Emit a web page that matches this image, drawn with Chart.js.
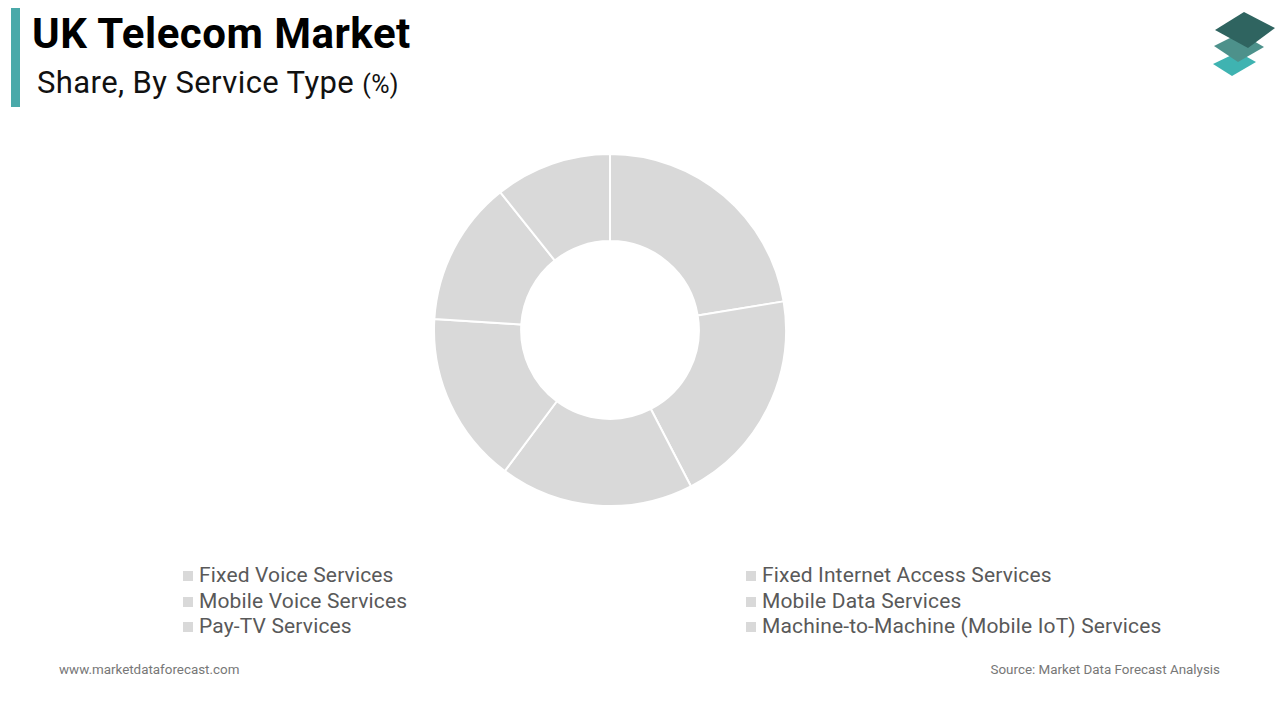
<!DOCTYPE html>
<html>
<head>
<meta charset="utf-8">
<script src="https://cdn.jsdelivr.net/npm/chart.js@4.4.1/dist/chart.umd.min.js"></script>
<style>
    body { margin: 0; width: 1280px; height: 720px; background: #fff; font-family: Roboto, sans-serif; position: relative; overflow: hidden; }
    .bar { position: absolute; left: 11px; top: 8px; width: 9px; height: 99px; background: #4aa9a9; }
    .title { position: absolute; left: 32px; top: 9px; font-size: 42px; font-weight: bold; color: #000; letter-spacing: 0.5px; }
    .subtitle { position: absolute; left: 37px; top: 64px; font-size: 31px; color: #111; letter-spacing: 0.4px; }
    .subtitle span { font-size: 25px; }
    #chartWrap { position: absolute; left: 433px; top: 153px; width: 354px; height: 354px; }
    .legend { position: absolute; font-size: 21px; color: #595959; letter-spacing: 0.15px; }
    .legend div { height: 25.5px; line-height: 25.5px; white-space: nowrap; }
    .legend i { display: inline-block; width: 10px; height: 10px; background: #d9d9d9; margin-right: 6px; vertical-align: 1px; }
    .foot { position: absolute; top: 662px; font-size: 13.4px; color: #777; }
</style>
</head>
<body>
<div class="bar"></div>
<div class="title">UK Telecom Market</div>
<div class="subtitle">Share, By Service Type <span>(%)</span></div>

<svg style="position:absolute;left:1205px;top:5px" width="75" height="75" viewBox="1205 5 75 75">
    <polygon points="1213,64 1238,52 1256,62 1232,76" fill="#3fb3b1"/>
    <polygon points="1214,46 1240,33 1264,47 1238,62" fill="#4d918b"/>
    <polygon points="1215,30 1244,12 1275,28 1248,48" fill="#2f6460"/>
</svg>

<div id="chartWrap"><canvas id="chartShare"></canvas></div>

<div class="legend" id="legLeft" style="left:183px; top:563px;"></div>
<div class="legend" id="legRight" style="left:746px; top:563px;"></div>

<div class="foot" style="left:59px;">www.marketdataforecast.com</div>
<div class="foot" style="right:60px;">Source: Market Data Forecast Analysis</div>

<script>
// service types, in drawing order (clockwise from the top)
const categories = [
    'Fixed Voice Services',
    'Fixed Internet Access Services',
    'Mobile Voice Services',
    'Mobile Data Services',
    'Pay-TV Services',
    'Machine-to-Machine (Mobile IoT) Services'
];
// share values (%)
const shareValues = [22.4, 20.0, 17.8, 15.8, 13.3, 10.7];
const sliceColors = ['#d9d9d9', '#d9d9d9', '#d9d9d9', '#d9d9d9', '#d9d9d9', '#d9d9d9'];

// legend: two columns, filled row by row
const left = document.getElementById('legLeft');
const right = document.getElementById('legRight');
categories.forEach((name, i) => {
    const row = document.createElement('div');
    row.innerHTML = '<i style="background:' + sliceColors[i] + '"></i>' + name;
    (i % 2 === 0 ? left : right).appendChild(row);
});

const ctx = document.getElementById('chartShare');
new Chart(ctx, {
    type: 'doughnut',
    data: {
        labels: categories,
        datasets: [{
            data: shareValues,
            backgroundColor: sliceColors,
            borderColor: '#ffffff',
            borderWidth: 2
        }]
    },
    options: {
        responsive: true,
        maintainAspectRatio: false,
        animation: false,
        cutout: '50.5%',
        layout: { padding: 0 },
        plugins: {
            legend: { display: false },
            tooltip: { enabled: false }
        }
    }
});
</script>
</body>
</html>
